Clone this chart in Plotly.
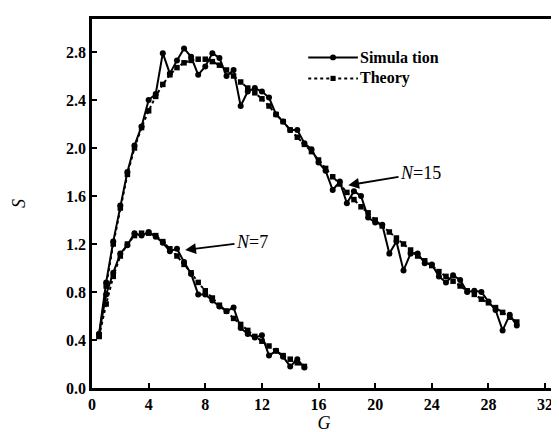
import plotly.graph_objects as go

# ---- data ----
G15 = [0.5, 1.0, 1.5, 2.0, 2.5, 3.0, 3.5, 4.0, 4.5, 5.0, 5.5, 6.0, 6.5, 7.0, 7.5, 8.0, 8.5, 9.0, 9.5, 10.0,
       10.5, 11.0, 11.5, 12.0, 12.5, 13.0, 13.5, 14.0, 14.5, 15.0, 15.5, 16.0, 16.5, 17.0, 17.5, 18.0, 18.5, 19.0, 19.5, 20.0,
       20.5, 21.0, 21.5, 22.0, 22.5, 23.0, 23.5, 24.0, 24.5, 25.0, 25.5, 26.0, 26.5, 27.0, 27.5, 28.0, 28.5, 29.0, 29.5, 30.0]
theory15 = [0.43, 0.85, 1.20, 1.50, 1.78, 2.00, 2.17, 2.31, 2.43, 2.53, 2.61, 2.67, 2.71, 2.73, 2.74, 2.74, 2.72, 2.69, 2.65, 2.60,
            2.55, 2.50, 2.46, 2.41, 2.35, 2.28, 2.22, 2.15, 2.09, 2.03, 1.97, 1.90, 1.83, 1.76, 1.70, 1.63, 1.57, 1.51, 1.46, 1.40,
            1.35, 1.30, 1.25, 1.20, 1.15, 1.10, 1.06, 1.02, 0.97, 0.93, 0.89, 0.85, 0.81, 0.78, 0.74, 0.71, 0.67, 0.63, 0.59, 0.55]
sim15 = [0.45, 0.88, 1.22, 1.52, 1.80, 2.02, 2.18, 2.40, 2.45, 2.79, 2.62, 2.73, 2.83, 2.76, 2.61, 2.68, 2.79, 2.75, 2.60, 2.65,
         2.35, 2.47, 2.50, 2.47, 2.42, 2.28, 2.22, 2.15, 2.15, 2.04, 1.99, 1.88, 1.81, 1.65, 1.72, 1.54, 1.64, 1.60, 1.42, 1.38,
         1.36, 1.12, 1.22, 0.98, 1.12, 1.12, 1.04, 1.03, 0.93, 0.88, 0.94, 0.90, 0.80, 0.81, 0.80, 0.72, 0.65, 0.48, 0.61, 0.52]

G7 = [0.5, 1.0, 1.5, 2.0, 2.5, 3.0, 3.5, 4.0, 4.5, 5.0, 5.5, 6.0, 6.5, 7.0, 7.5,
      8.0, 8.5, 9.0, 9.5, 10.0, 10.5, 11.0, 11.5, 12.0, 12.5, 13.0, 13.5, 14.0, 14.5, 15.0]
theory7 = [0.43, 0.70, 0.93, 1.10, 1.20, 1.27, 1.29, 1.29, 1.27, 1.22, 1.16, 1.10, 1.03, 0.96, 0.88,
           0.81, 0.75, 0.69, 0.64, 0.58, 0.53, 0.48, 0.43, 0.39, 0.35, 0.31, 0.27, 0.24, 0.21, 0.18]
sim7 = [0.45, 0.78, 0.96, 1.12, 1.19, 1.29, 1.27, 1.30, 1.26, 1.21, 1.14, 1.16, 1.05, 0.95, 0.78,
        0.78, 0.73, 0.68, 0.64, 0.67, 0.50, 0.45, 0.42, 0.44, 0.27, 0.31, 0.26, 0.18, 0.24, 0.17]

x_ticks = [0, 4, 8, 12, 16, 20, 24, 28, 32]
y_ticks = [0.0, 0.4, 0.8, 1.2, 1.6, 2.0, 2.4, 2.8]
y_tick_labels = ["0.0", "0.4", "0.8", "1.2", "1.6", "2.0", "2.4", "2.8"]
legend_labels = ["Simula tion", "Theory"]

SERIF = "Liberation Serif, Times New Roman, serif"

fig = go.Figure()

sim_style = dict(mode="lines+markers", line=dict(color="black", width=2),
                 marker=dict(symbol="circle", size=6, color="black"), showlegend=False)
th_style = dict(mode="lines+markers", line=dict(color="black", width=2, dash="dot"),
                marker=dict(symbol="square", size=5.5, color="black"), showlegend=False)

fig.add_trace(go.Scatter(x=G15, y=sim15, name=legend_labels[0], **sim_style))
fig.add_trace(go.Scatter(x=G15, y=theory15, name=legend_labels[1], **th_style))
fig.add_trace(go.Scatter(x=G7, y=sim7, name=legend_labels[0], **sim_style))
fig.add_trace(go.Scatter(x=G7, y=theory7, name=legend_labels[1], **th_style))

fig.add_annotation(x=18.1, y=1.69, ax=23.2, ay=1.79, axref="x", ayref="y",
                   text="<i>N</i>=15", showarrow=True, arrowhead=2, arrowsize=1.2, arrowwidth=1.8,
                   arrowcolor="black", font=dict(family=SERIF, size=18, color="black"))
fig.add_annotation(x=6.58, y=1.15, ax=11.3, ay=1.22, axref="x", ayref="y",
                   text="<i>N</i>=7", showarrow=True, arrowhead=2, arrowsize=1.2, arrowwidth=1.8,
                   arrowcolor="black", font=dict(family=SERIF, size=18, color="black"))

# ---- manual legend (paper coordinates) ----
L0, L1 = 0.466, 0.573
Y1, Y2 = 0.896, 0.839
fig.add_shape(type="line", xref="paper", yref="paper", x0=L0, x1=L1, y0=Y1, y1=Y1,
              line=dict(color="black", width=2))
fig.add_shape(type="line", xref="paper", yref="paper", x0=L0, x1=L1, y0=Y2, y1=Y2,
              line=dict(color="black", width=2, dash="dot"))
xm = (L0 + L1) / 2
fig.add_shape(type="circle", xref="paper", yref="paper", x0=xm - 0.0064, x1=xm + 0.0064,
              y0=Y1 - 0.0081, y1=Y1 + 0.0081, fillcolor="black", line=dict(color="black", width=0))
fig.add_shape(type="rect", xref="paper", yref="paper", x0=xm - 0.0055, x1=xm + 0.0055,
              y0=Y2 - 0.007, y1=Y2 + 0.007, fillcolor="black", line=dict(color="black", width=0))
fig.add_annotation(x=L1 + 0.003, y=Y1, xref="paper", yref="paper", xanchor="left", yanchor="middle",
                   text="<b>%s</b>" % legend_labels[0], showarrow=False, borderpad=0,
                   font=dict(family=SERIF, size=16, color="black"))
fig.add_annotation(x=L1 + 0.003, y=Y2, xref="paper", yref="paper", xanchor="left", yanchor="middle",
                   text="<b>%s</b>" % legend_labels[1], showarrow=False, borderpad=0,
                   font=dict(family=SERIF, size=16, color="black"))

fig.update_layout(
    width=559, height=432,
    margin=dict(l=84, r=8, t=11, b=52),
    paper_bgcolor="white", plot_bgcolor="white",
    font=dict(family=SERIF, color="black"),
    showlegend=False,
    xaxis=dict(range=[0, 32.77], tickvals=x_ticks, ticktext=["<b>%d</b>" % v for v in x_ticks],
               ticks="inside", ticklen=5, tickwidth=2, tickcolor="black",
               showline=True, linewidth=2.5, linecolor="black", mirror=True,
               showgrid=False, zeroline=False,
               tickfont=dict(family=SERIF, size=16, color="black"),
               title=dict(text="<i>G</i>", font=dict(family=SERIF, size=18, color="black"), standoff=2)),
    yaxis=dict(range=[0, 3.075], tickvals=y_ticks, ticktext=["<b>%s</b>" % t for t in y_tick_labels],
               ticks="inside", ticklen=5, tickwidth=2, tickcolor="black",
               showline=True, linewidth=2.5, linecolor="black", mirror=True,
               showgrid=False, zeroline=False,
               tickfont=dict(family=SERIF, size=16, color="black"),
               title=dict(text="<i>S</i>", font=dict(family=SERIF, size=18, color="black"), standoff=36)),
)

fig.write_html("out.html")
